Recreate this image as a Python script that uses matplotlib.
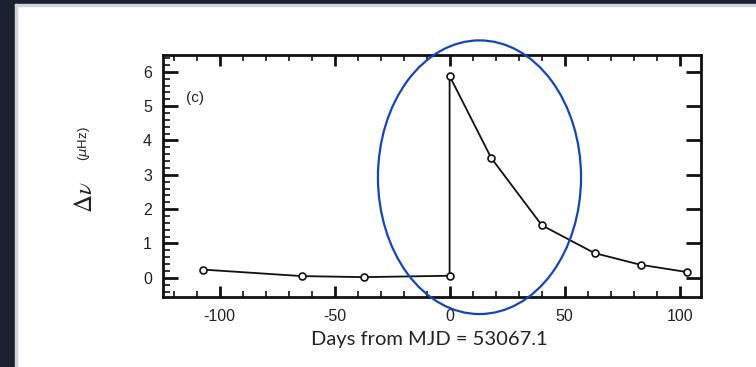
import numpy as np
import matplotlib.pyplot as plt
from matplotlib.patches import Ellipse, Rectangle
from matplotlib.ticker import MultipleLocator

# frequency jump relative to MJD 53067.1
days = [-107.3, -64.2, -37.3, 0.0, 0.0, 18.1, 40.1, 63.0, 83.0, 103.0]
dnu = [0.24, 0.05, 0.02, 0.06, 5.88, 3.49, 1.53, 0.72, 0.38, 0.17]

xticks = [-100, -50, 0, 50, 100]
yticks = [0, 1, 2, 3, 4, 5, 6]

plt.rcParams['font.family'] = ['Liberation Sans', 'DejaVu Sans']
plt.rcParams['axes.unicode_minus'] = False

fig = plt.figure(figsize=(7.56, 3.67), dpi=100)

# dark frame round the page
fig.patches.append(Rectangle((0, 0), 15 / 756, 1, transform=fig.transFigure,
                             color='#1b2130', zorder=0))
fig.patches.append(Rectangle((0, 1 - 4 / 367), 1, 4 / 367, transform=fig.transFigure,
                             color='#1b2130', zorder=0))
fig.patches.append(Rectangle((15 / 756, 1 - 6 / 367), 1, 2 / 367, transform=fig.transFigure,
                             color='#d0d3d8', zorder=0))
fig.patches.append(Rectangle((15 / 756, 0), 2 / 756, 1 - 4 / 367, transform=fig.transFigure,
                             color='#d0d3d8', zorder=0))

ax = fig.add_axes([163 / 756, 1 - 296.7 / 367, (701 - 163) / 756, (296.7 - 55) / 367])
ax.plot(days, dnu, '-o', color='#111111', lw=1.3, ms=5, mfc='white', mec='#111111', mew=1.2)

ax.set_xlim(-124.6, 109.3)
ax.set_ylim(-0.55, 6.49)
ax.set_xticks(xticks)
ax.set_yticks(yticks)
ax.xaxis.set_minor_locator(MultipleLocator(10))
ax.yaxis.set_minor_locator(MultipleLocator(0.2))

for s in ax.spines.values():
    s.set_linewidth(2)
    s.set_color('#111111')

ax.tick_params(axis='x', which='major', direction='in', top=True, length=8, width=2,
               labelsize=11.5, pad=9, color='#111111', labelcolor='#222222')
ax.tick_params(axis='x', which='minor', direction='in', top=True, length=4, width=1.2,
               color='#111111')
ax.tick_params(axis='y', which='major', direction='in', right=True, length=11, width=2,
               labelsize=11.5, pad=8, color='#111111', labelcolor='#222222')
ax.tick_params(axis='y', which='minor', direction='in', right=False, length=5, width=1.2,
               color='#111111')

ax.text(-110.7, 5.24, '(c)', fontsize=11, ha='center', va='center', color='#222222')

# highlight round the glitch
ax.add_patch(Ellipse((13.0, 2.93), 88.3, 7.97, fill=False, ec='#1447b4', lw=1.6,
                     clip_on=False, zorder=5))

fig.text(429 / 756, 1 - 339 / 367, 'Days from MJD = 53067.1', fontsize=14.5,
         family='Lato', ha='center', va='center', color='#222222')
fig.text(85 / 756, 1 - 197 / 367, r'$\Delta\nu$', fontsize=18, rotation=90,
         ha='center', va='center', color='#222222', math_fontfamily='stix')
fig.text(84 / 756, 1 - 144 / 367, r'($\mu$Hz)', fontsize=9.5, rotation=90,
         ha='center', va='center', color='#222222')

fig.savefig('out.png', dpi=100)
